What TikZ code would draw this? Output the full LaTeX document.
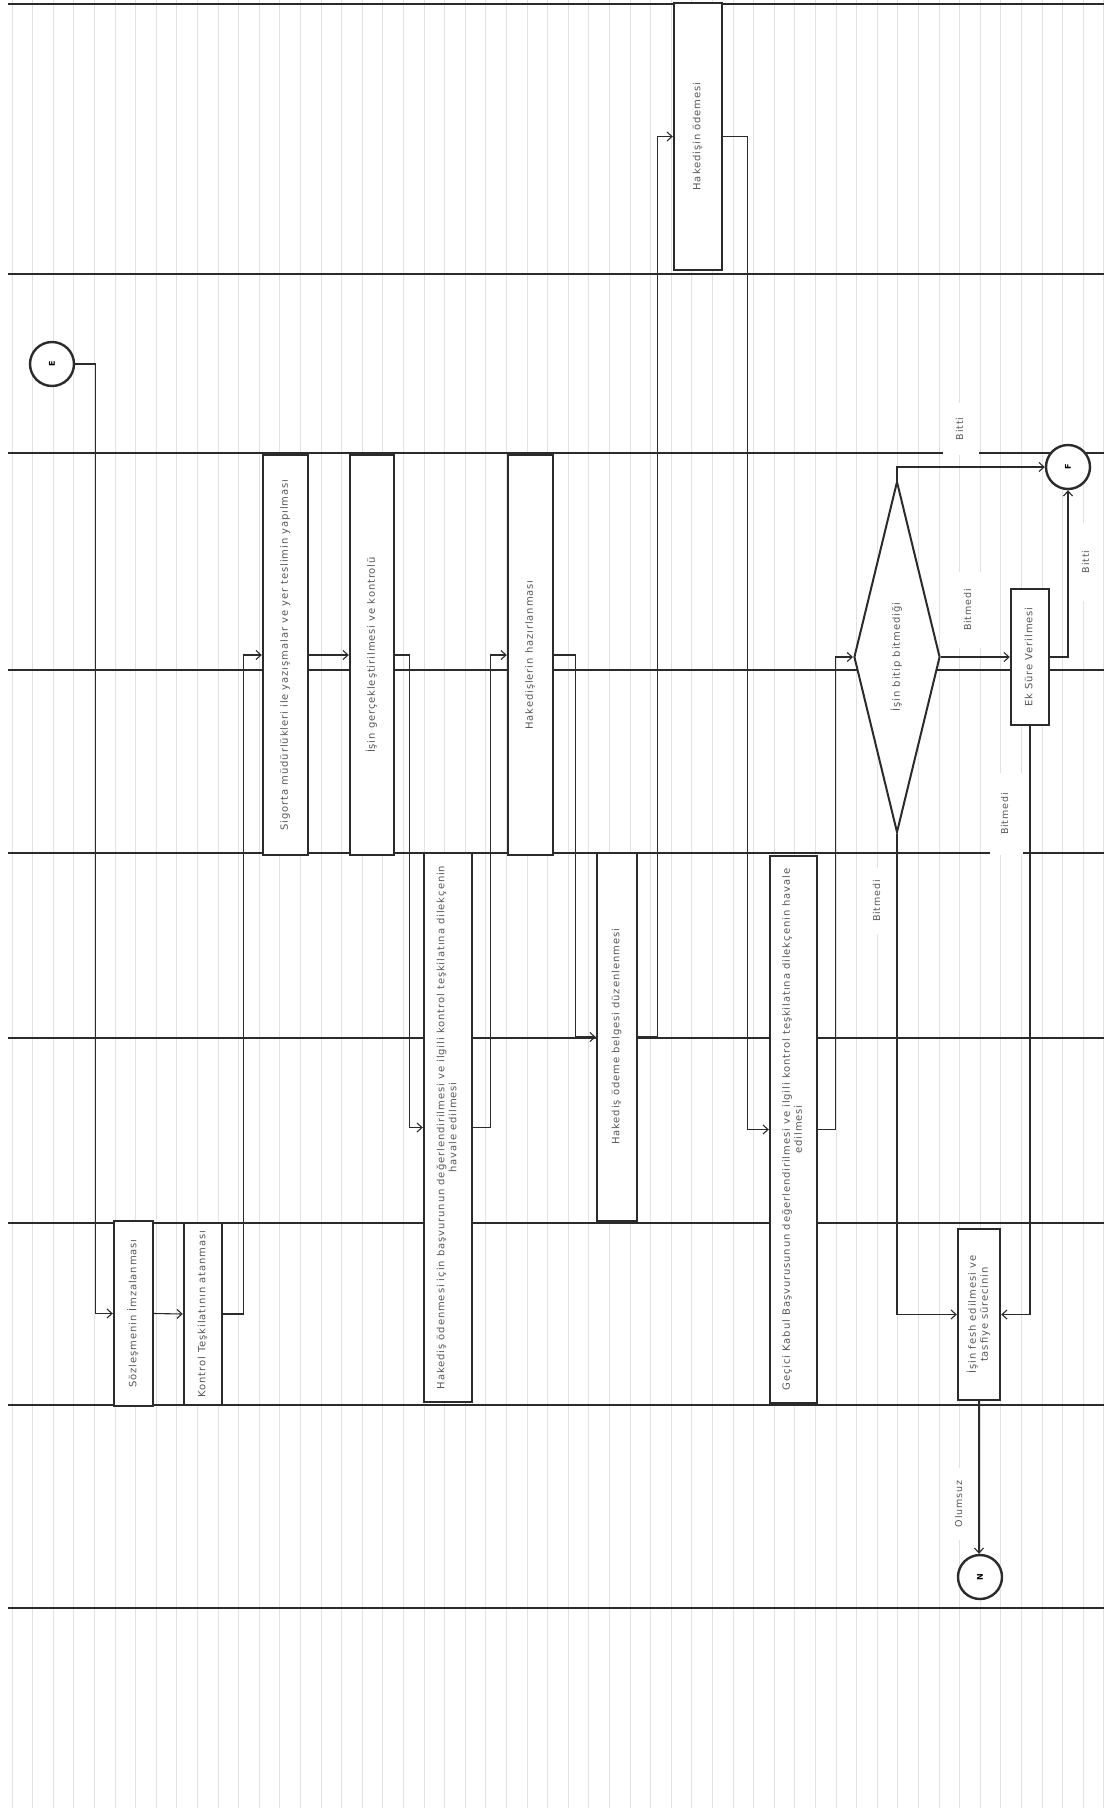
\documentclass[tikz,border=0pt]{standalone}
\usepackage{fontspec}
\setmainfont{DejaVu Sans}[LetterSpace=9]
\usetikzlibrary{shapes.geometric, arrows.meta, positioning, calc}
\definecolor{cink}{HTML}{2B2B2B}
\definecolor{ctxt}{HTML}{575757}
\definecolor{cgrid}{HTML}{E2E2E2}
\newcommand{\vtxt}[1]{\rotatebox{90}{\begin{tabular}{@{}c@{}}#1\end{tabular}}}

\begin{document}
\begin{tikzpicture}[x=1pt, y=-1pt,
  proc/.style={draw=cink, line width=2.4pt, fill=white, inner sep=0pt,
               text=ctxt, font=\fontsize{10}{12}\selectfont},
  dec/.style={diamond, draw=cink, line width=2pt, fill=white, inner sep=0pt,
              aspect=0.25, text=ctxt, font=\fontsize{10}{12}\selectfont},
  term/.style={circle, draw=cink, line width=2.4pt, fill=white, inner sep=0pt,
               minimum size=44, font=\fontsize{8}{9}\selectfont\bfseries},
  arr/.style={draw=cink, line width=1.1pt, -{Straight Barb[length=5pt, width=9pt]}},
  lbl/.style={fill=white, inner sep=0pt, text=ctxt,
              font=\fontsize{9.5}{10}\selectfont},
  lane/.style={draw=cink, line width=1.8pt},
  grd/.style={draw=cgrid, line width=0.8pt}
]
\useasboundingbox (0,0) rectangle (1104,1815);
\fill[white] (0,0) rectangle (1104,1815);

%% ── Paper rules and lanes
\foreach \i in {0,...,53}
  \draw[grd] ({12+20.6*\i},0) -- ({12+20.6*\i},1808);
\foreach \y in {4,274,453,670,853,1038,1223,1405,1608}
  \draw[lane] (8,\y) -- (1104,\y);

%% ── Edge labels
\node[lbl, minimum width=36, minimum height=52] (lbitti) at (961,429) {\vtxt{Bitti}};
\node[lbl, minimum width=32, minimum height=76] (lbitmedi) at (969,610) {\vtxt{Bitmedi}};
\node[lbl, minimum width=28, minimum height=78] (lbittiek) at (1087,562) {\vtxt{Bitti}};
\node[lbl, minimum width=33, minimum height=82] (lbitmediek) at (1006,814) {\vtxt{Bitmedi}};
\node[lbl, minimum width=34, minimum height=66] (lbitmedidia) at (878,901) {\vtxt{Bitmedi}};
\node[lbl, minimum width=31, minimum height=72] (lolumsuz) at (960,1504) {\vtxt{Olumsuz}};

%% ── Connectors E, F, N
\node[term] (E) at (52,364) {\rotatebox{90}{E}};
\node[term] (F) at (1068,467) {\rotatebox{90}{F}};
\node[term] (N) at (980,1577) {\rotatebox{90}{N}};

%% ── Process boxes
\node[proc, minimum width=39, minimum height=185] (soz) at (133.5,1313.5)
  {\vtxt{Sözleşmenin İmzalanması}};
\node[proc, minimum width=38, minimum height=182] (kontrol) at (203,1314)
  {\vtxt{Kontrol Teşkilatının atanması}};
\node[proc, minimum width=45, minimum height=400] (sigorta) at (285.5,655)
  {\vtxt{Sigorta müdürlükleri ile yazışmalar ve yer teslimin yapılması}};
\node[proc, minimum width=44, minimum height=400] (isin) at (372,655)
  {\vtxt{İşin gerçekleştirilmesi ve kontrolü}};
\node[proc, minimum width=48, minimum height=549] (hodenme) at (448,1127.5)
  {\vtxt{Hakediş ödenmesi için başvurunun değerlendirilmesi ve ilgili kontrol teşkilatına dilekçenin\\havale edilmesi}};
\node[proc, minimum width=45, minimum height=400] (hazir) at (530.5,655)
  {\vtxt{Hakedişlerin hazırlanması}};
\node[proc, minimum width=40, minimum height=368] (belge) at (617,1037)
  {\vtxt{Hakediş ödeme belgesi düzenlenmesi}};
\node[proc, minimum width=48, minimum height=267] (odeme) at (698,136.5)
  {\vtxt{Hakedişin ödemesi}};
\node[proc, minimum width=47, minimum height=547] (gecici) at (793.5,1129.5)
  {\vtxt{Geçici Kabul Başvurusunun değerlendirilmesi ve ilgili kontrol teşkilatına dilekçenin havale\\edilmesi}};
\node[dec, minimum width=86, minimum height=351] (dia) at (897,657)
  {\vtxt{İşin bitip bitmediği}};
\node[proc, minimum width=38, minimum height=136] (ek) at (1030,657)
  {\vtxt{Ek Süre Verilmesi}};
\node[proc, minimum width=42, minimum height=171] (tasfiye) at (979,1314.5)
  {\vtxt{İşin fesh edilmesi ve\\tasfiye sürecinin}};

%% ── Flow
\draw[arr] (E.east) -- ++(20,0) |- (soz.west);
\draw[arr] (soz.east) -- (kontrol.west);
\draw[arr] (kontrol.east) -- ++(20,0) |- (sigorta.west);
\draw[arr] (sigorta.east) -- (isin.west);
\draw[arr] (isin.east) -- ++(14,0) |- (hodenme.west);
\draw[arr] (hodenme.east) -- ++(17,0) |- (hazir.west);
\draw[arr] (hazir.east) -- ++(21,0) |- (belge.west);
\draw[arr] (belge.east) -- ++(19,0) |- (odeme.west);
\draw[arr] (odeme.east) -- ++(24,0) |- (gecici.west);
\draw[arr] (gecici.east) -- ++(17,0) |- (dia.west);

%% ── Decision branches
\draw[arr] (dia.north) |- (F.west);
\draw[arr] (dia.east) -- (ek.west);
\draw[arr] (ek.east) -| (F.south);
\draw[arr] (dia.south) |- (tasfiye.west);
\draw[arr] (ek.south) |- (tasfiye.east);
\draw[arr] (tasfiye.south) -- (tasfiye.south |- N.north);

\end{tikzpicture}
\end{document}
